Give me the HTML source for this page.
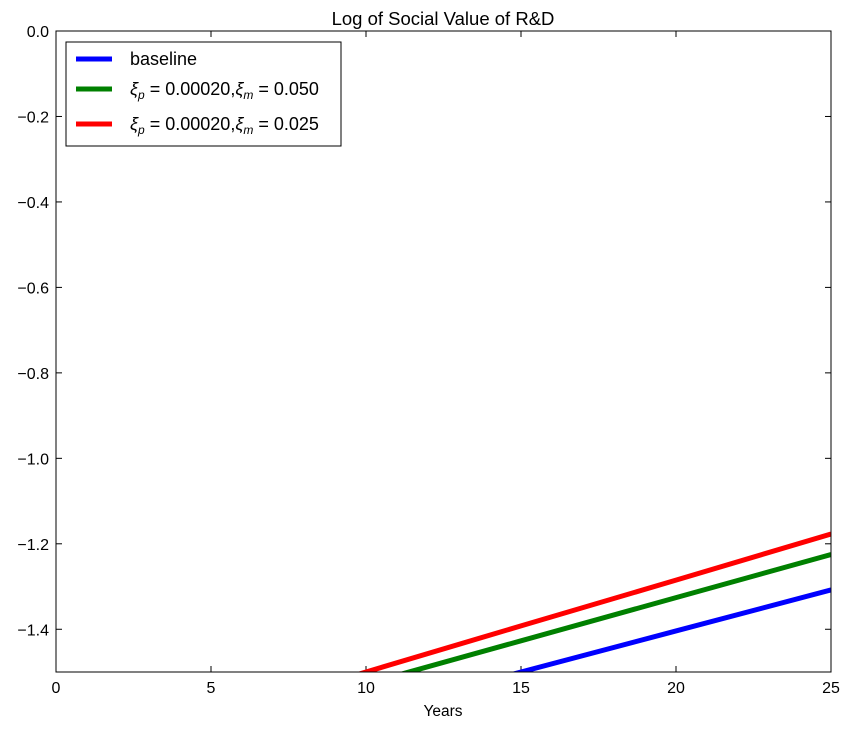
<!DOCTYPE html>
<html><head><meta charset="utf-8"><style>
html,body{margin:0;padding:0;background:#fff;overflow:hidden;width:851px;height:730px;position:relative;}
svg{display:block;position:absolute;left:0;top:0;}
svg text{font-family:"Liberation Sans",sans-serif;}
</style></head><body>
<svg width="851" height="730" viewBox="0 0 851 730" xmlns="http://www.w3.org/2000/svg">
<defs><clipPath id="pc"><rect x="56" y="31" width="775" height="641"/></clipPath></defs>
<rect width="851" height="730" fill="#fff"/>
<text x="443" y="25" font-size="18.5" text-anchor="middle">Log of Social Value of R&amp;D</text>
<g id="axes"></g>
<g id="series" clip-path="url(#pc)"></g>
<rect x="56" y="31" width="775" height="641" fill="none" stroke="#000" stroke-width="1"/>
<text x="443" y="716" font-size="15.5" text-anchor="middle">Years</text>
<g>
<rect x="66" y="42" width="275" height="104" fill="#fff" stroke="#000" stroke-width="1"/>
<line x1="76" y1="59" x2="112" y2="59" stroke="#0000ff" stroke-width="5"/>
<text x="130" y="65" font-size="18">baseline</text>
<line x1="76" y1="89" x2="112" y2="89" stroke="#008000" stroke-width="5"/>
<text x="130" y="95" font-size="18" font-family="Liberation Serif,serif"><tspan font-style="italic">ξ</tspan><tspan font-size="12" dy="4" font-style="italic">p</tspan><tspan dy="-4"> = 0.00020,</tspan><tspan font-style="italic">ξ</tspan><tspan font-size="12" dy="4" font-style="italic">m</tspan><tspan dy="-4"> = 0.050</tspan></text>
<line x1="76" y1="124" x2="112" y2="124" stroke="#ff0000" stroke-width="5"/>
<text x="130" y="130" font-size="18" font-family="Liberation Serif,serif"><tspan font-style="italic">ξ</tspan><tspan font-size="12" dy="4" font-style="italic">p</tspan><tspan dy="-4"> = 0.00020,</tspan><tspan font-style="italic">ξ</tspan><tspan font-size="12" dy="4" font-style="italic">m</tspan><tspan dy="-4"> = 0.025</tspan></text>
</g>
</svg>
<script>
const years=[0,5,10,15,20,25];
const baseline=[-1.788,-1.692,-1.596,-1.5,-1.404,-1.308];
const green050=[-1.73,-1.629,-1.528,-1.427,-1.326,-1.225];
const red025=[-1.715,-1.608,-1.5,-1.392,-1.285,-1.177];
const xTicks=[0,5,10,15,20,25];
const yTicks=[0,-0.2,-0.4,-0.6,-0.8,-1.0,-1.2,-1.4];
const NS="http://www.w3.org/2000/svg";
const X=v=>56+(v-0)/25*775;
const Y=v=>31+(0-v)/1.5*641;
const axes=document.getElementById('axes');
function mk(t,a,p){const e=document.createElementNS(NS,t);for(const k in a)e.setAttribute(k,a[k]);p.appendChild(e);return e;}
xTicks.forEach(t=>{
 const x=X(t);
 const l1=mk('line',{x1:x,y1:672,x2:x,y2:666,stroke:'#000'},axes);
 
 
 const l2=mk('line',{x1:x,y1:31,x2:x,y2:37,stroke:'#000'},axes);
 
 
 const tx=mk('text',{x:x,y:693,'font-size':16,'text-anchor':'middle'},axes);
 tx.textContent=t;
 
 
});
yTicks.forEach(t=>{
 const y=Y(t);
 const l1=mk('line',{x1:56,y1:y,x2:62,y2:y,stroke:'#000'},axes);
 
 
 const l2=mk('line',{x1:831,y1:y,x2:825,y2:y,stroke:'#000'},axes);
 
 
 const tx=mk('text',{x:49,y:y+6,'font-size':16,'text-anchor':'end'},axes);
 tx.textContent=(t<0?'\u2212':'')+Math.abs(t).toFixed(1);
 
 
});
const series=document.getElementById('series');
[[baseline,'#0000ff','line-baseline'],[green050,'#008000','line-xi-m-0050'],[red025,'#ff0000','line-xi-m-0025']].forEach(([d,c,n])=>{
 const p=mk('polyline',{points:years.map((yr,i)=>X(yr)+','+Y(d[i])).join(' '),fill:'none',stroke:c,'stroke-width':5},series);
 
 
});
</script>
</body></html>
